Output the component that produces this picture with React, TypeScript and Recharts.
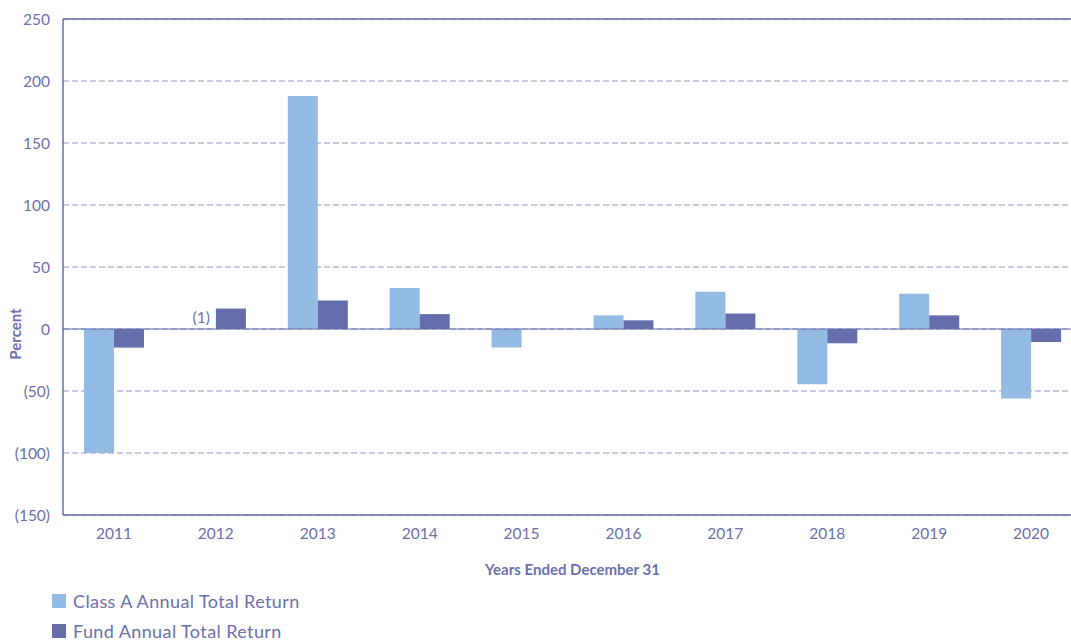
import React from 'react';
import { BarChart, Bar, XAxis, YAxis, CartesianGrid, ReferenceLine, LabelList, Label } from 'recharts';

const years = ['2011', '2012', '2013', '2014', '2015', '2016', '2017', '2018', '2019', '2020'];
const classAReturn = [-100, 0, 188, 33, -15, 11, 30, -44.5, 28.5, -56];
const fundReturn = [-15, 16.5, 23, 12, 0, 7, 12.5, -11.5, 11, -10.5];
const notes = ['', '(1)', '', '', '', '', '', '', '', ''];
const yTicks = [250, 200, 150, 100, 50, 0, -50, -100, -150];

const data = years.map((year, i) => ({
  year,
  classA: classAReturn[i],
  fund: fundReturn[i],
  note: notes[i],
}));

const TEXT = '#6b70ae';
const GRID = '#9296cb';
const LIGHT = '#93bbe3';
const DARK = '#656eab';
const FONT = 'Lato, "Open Sans", sans-serif';

const formatPct = (v: number) => (v < 0 ? `(${Math.abs(v)})` : `${v}`);

// footnote marker drawn just left of the fund bar, sitting on the zero line
const NoteLabel = (props: any) => {
  const { x, y, height, value } = props;
  if (!value) return null;
  return (
    <text x={x - 6} y={y + height - 6} textAnchor="end" fill={TEXT} fontSize={15.5} fontFamily={FONT}>
      {value}
    </text>
  );
};

const PercentLabel = () => (
  <text
    x={21}
    y={334}
    transform="rotate(-90, 21, 334)"
    textAnchor="middle"
    fill={TEXT}
    fontSize={15}
    fontWeight="bold"
    fontFamily={FONT}
  >
    Percent
  </text>
);

const App: React.FC = () => {
  return (
    <div style={{ position: 'absolute', left: 0, top: 0, width: 1071, height: 641, background: '#fff', fontFamily: FONT }}>
      <BarChart
        width={1071}
        height={641}
        data={data}
        margin={{ top: 19, right: -11, left: 1, bottom: 66 }}
        barGap={0}
        barSize={30}
      >
        <CartesianGrid vertical={false} stroke={GRID} strokeDasharray="6 3" />
        <XAxis
          dataKey="year"
          axisLine={{ stroke: DARK, strokeWidth: 1.5 }}
          tickLine={false}
          tick={{ fill: TEXT, fontSize: 15.5, fontFamily: FONT }}
          tickMargin={7}
          height={60}
        >
          <Label
            value="Years Ended December 31"
            position="insideBottom"
            offset={0}
            fill={TEXT}
            fontSize={15}
            fontWeight="bold"
            fontFamily={FONT}
          />
        </XAxis>
        <YAxis
          domain={[-150, 250]}
          ticks={yTicks}
          tickFormatter={formatPct}
          axisLine={{ stroke: DARK, strokeWidth: 1.5 }}
          tickLine={false}
          tick={{ fill: TEXT, fontSize: 15.5, fontFamily: FONT }}
          tickMargin={7}
          width={62}
        >
          <Label content={<PercentLabel />} />
        </YAxis>
        <ReferenceLine y={0} stroke={DARK} strokeWidth={1} />
        <ReferenceLine y={250} stroke={DARK} strokeWidth={1.5} />
        <Bar dataKey="classA" fill={LIGHT} isAnimationActive={false} />
        <Bar dataKey="fund" fill={DARK} isAnimationActive={false}>
          <LabelList dataKey="note" content={<NoteLabel />} />
        </Bar>
      </BarChart>
      <div style={{ position: 'absolute', left: 52, top: 586, color: TEXT, fontSize: 18, lineHeight: '30px', letterSpacing: 0.4 }}>
        <div style={{ display: 'flex', alignItems: 'center' }}>
          <span style={{ width: 14, height: 14, background: LIGHT, marginRight: 7, display: 'inline-block' }} />
          Class A Annual Total Return
        </div>
        <div style={{ display: 'flex', alignItems: 'center' }}>
          <span style={{ width: 14, height: 14, background: DARK, marginRight: 7, display: 'inline-block' }} />
          Fund Annual Total Return
        </div>
      </div>
    </div>
  );
};

export default App;
